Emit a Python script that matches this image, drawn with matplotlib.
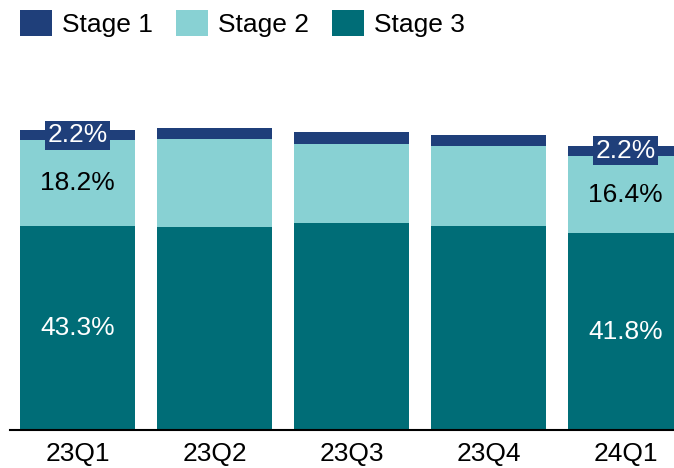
import matplotlib
matplotlib.use("Agg")
import matplotlib.pyplot as plt
from matplotlib.patches import Patch

categories = ["23Q1", "23Q2", "23Q3", "23Q4", "24Q1"]
stage3 = [43.3, 43.2, 44.0, 43.4, 41.8]
stage2 = [18.2, 18.6, 16.8, 16.9, 16.4]
stage1 = [2.2, 2.4, 2.4, 2.3, 2.2]
stage3_labels = ["43.3%", "", "", "", "41.8%"]
stage2_labels = ["18.2%", "", "", "", "16.4%"]
stage1_labels = ["2.2%", "", "", "", "2.2%"]

c1 = "#1F3F7A"
c2 = "#88D1D3"
c3 = "#006D77"

plt.rcParams['font.family'] = ['Liberation Sans', 'DejaVu Sans']

fig = plt.figure(figsize=(6.74, 4.68), dpi=100)
W, H = 674, 468
ax_left, ax_right, ax_bottom, ax_top = 10, 674, 430, 60
ax = fig.add_axes([ax_left / W, 1 - ax_bottom / H, (ax_right - ax_left) / W, (ax_bottom - ax_top) / H])

x = list(range(len(categories)))
width = 0.84
FS = 19
ax.bar(x, stage3, width, color=c3, label="Stage 3")
bottom2 = stage3
ax.bar(x, stage2, width, bottom=bottom2, color=c2, label="Stage 2")
bottom1 = [a + b for a, b in zip(stage3, stage2)]
ax.bar(x, stage1, width, bottom=bottom1, color=c1, label="Stage 1")

for i in x:
    if stage3_labels[i]:
        ax.text(i, stage3[i] / 2, stage3_labels[i], ha="center", va="center", color="white", fontsize=FS)
    if stage2_labels[i]:
        ax.text(i, stage3[i] + stage2[i] / 2, stage2_labels[i], ha="center", va="center", color="black", fontsize=FS)
    if stage1_labels[i]:
        ax.text(i, bottom1[i] + stage1[i] / 2, stage1_labels[i], ha="center", va="center", color="white", fontsize=FS,
                bbox=dict(boxstyle="square,pad=0.1", facecolor=c1, edgecolor="none"))

px_per_unit = 137
ax.set_xlim(-67.5 / px_per_unit, (674 - 77.5) / px_per_unit)
ax.set_ylim(0, (ax_bottom - ax_top) / 4.71)
ax.set_xticks(x)
ax.set_xticklabels(categories, fontsize=FS)
ax.tick_params(axis="x", length=0, pad=9)
ax.set_yticks([])
for s in ["top", "right", "left"]:
    ax.spines[s].set_visible(False)
ax.spines["bottom"].set_linewidth(1.5)
ax.spines["bottom"].set_color("black")

handles = [Patch(facecolor=c1), Patch(facecolor=c2), Patch(facecolor=c3)]
fig.legend(handles, ["Stage 1", "Stage 2", "Stage 3"], loc="upper left", bbox_to_anchor=(20 / W, 1 - 10 / H),
           ncol=3, frameon=False, fontsize=FS, handlelength=1.21, handleheight=1.14,
           handletextpad=0.38, columnspacing=0.87, borderaxespad=0, borderpad=0)

fig.savefig("out.png", dpi=100)
